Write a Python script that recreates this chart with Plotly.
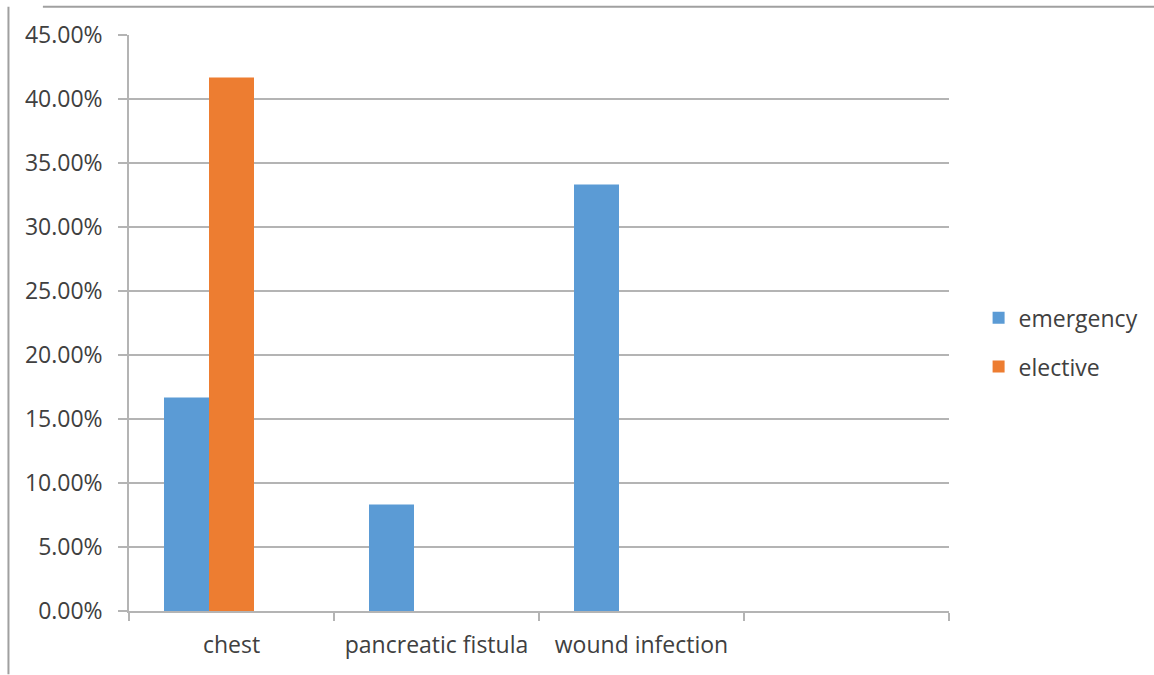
import plotly.graph_objects as go

# Complication rates by admission type
categories = ["chest", "pancreatic fistula", "wound infection", " "]
emergency = [0.1667, 0.0833, 0.3333, None]
elective = [0.4167, 0.0, 0.0, None]
y_ticks = [0.0, 0.05, 0.10, 0.15, 0.20, 0.25, 0.30, 0.35, 0.40, 0.45]
y_tick_text = ["0.00%", "5.00%", "10.00%", "15.00%", "20.00%", "25.00%",
               "30.00%", "35.00%", "40.00%", "45.00%"]

FONT = "Open Sans"
FSIZE = 23
GRID = "#b4b4b4"
TEXT = "#404040"

# Each category slot holds three bar widths; the two series fill the first two
BAR_W = 0.2195

fig = go.Figure()
fig.add_trace(go.Bar(name="emergency", x=categories, y=emergency,
                     width=BAR_W, offset=-1.5 * BAR_W,
                     marker=dict(color="#5B9BD5", line=dict(width=0)),
                     legendgroup="a"))
fig.add_trace(go.Bar(name="elective", x=categories, y=elective,
                     width=BAR_W, offset=-0.5 * BAR_W,
                     marker=dict(color="#ED7D31", line=dict(width=0)),
                     legendgroup="b"))

fig.update_layout(
    width=1154, height=675,
    margin=dict(l=129, r=205, t=35, b=64),
    paper_bgcolor="white", plot_bgcolor="white",
    barmode="overlay",
    font=dict(family=FONT, size=FSIZE, color=TEXT),
    showlegend=True,
    legend=dict(xref="container", yref="container", x=0.848, y=0.493,
                xanchor="left", yanchor="middle",
                font=dict(family=FONT, size=FSIZE, color=TEXT),
                tracegroupgap=16, itemwidth=30),
    xaxis=dict(type="category", categoryorder="array", categoryarray=categories,
               range=[-0.5, 3.5],
               showline=True, linecolor=GRID, linewidth=1.5,
               ticks="outside", tickson="boundaries", ticklen=8,
               tickcolor=GRID, tickwidth=1.5, ticklabelstandoff=13,
               showgrid=False, tickfont=dict(family=FONT, size=FSIZE, color=TEXT)),
    yaxis=dict(range=[0, 0.45], tickvals=y_ticks, ticktext=y_tick_text,
               showline=True, linecolor=GRID, linewidth=1.5,
               ticks="outside", ticklen=9, tickcolor=GRID, tickwidth=1.5,
               ticklabelstandoff=11,
               showgrid=True, gridcolor=GRID, gridwidth=1.5,
               zeroline=False, tickfont=dict(family=FONT, size=FSIZE, color=TEXT)),
    shapes=[
        # chart-area frame (top and left edges)
        dict(type="line", xref="paper", yref="paper", x0=-0.105, x1=1.25,
             y0=1.049, y1=1.049, line=dict(color="#a0a0a0", width=2)),
        dict(type="line", xref="paper", yref="paper", x0=-0.147, x1=-0.147,
             y0=1.049, y1=-0.11, line=dict(color="#a0a0a0", width=2)),
    ],
)

fig.write_html("out.html")
